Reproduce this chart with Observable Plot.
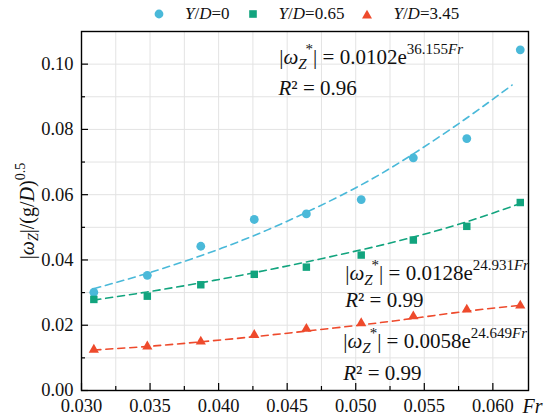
<!DOCTYPE html>
<html>
<head>
<meta charset="utf-8">
<script src="https://cdn.jsdelivr.net/npm/d3@7"></script>
<script src="https://cdn.jsdelivr.net/npm/@observablehq/plot@0.6"></script>
<style>
  html, body { margin: 0; padding: 0; background: white; }
  #wrap { position: relative; width: 550px; height: 419px; font-family: "Liberation Serif", serif; }
  #chart svg, #chart svg text, #chart svg tspan { font-family: "Liberation Serif", serif !important; }
  #legend { position: absolute; top: 0; left: 0; height: 27px; display: flex; align-items: center;
            padding-left: 154px; font-size: 17px; color: #111; z-index: 2; }
  #legend .sw { width: 10px; height: 10px; display: block; }
  #legend .lab { margin-left: 21px; margin-right: 18px; white-space: nowrap; }
</style>
</head>
<body>
<div id="wrap"><div id="legend"></div><div id="chart"></div></div>
<script>
// ---- data ----
const fr = [0.0309, 0.0348, 0.0387, 0.0426, 0.0464, 0.0504, 0.0542, 0.0581, 0.0620];
const yd0 = [0.0301, 0.0353, 0.0442, 0.0524, 0.0541, 0.0585, 0.0713, 0.0772, 0.1044];
const yd065 = [0.0279, 0.0289, 0.0324, 0.0356, 0.0378, 0.0415, 0.0461, 0.0503, 0.0576];
const yd345 = [0.0125, 0.0135, 0.0150, 0.0170, 0.0189, 0.0206, 0.0227, 0.0248, 0.0260];

// fitted (dashed) curves
const fitFr0 = [0.0309, 0.0348, 0.0387, 0.0426, 0.0464, 0.0504, 0.0542, 0.0581, 0.0614];
const fit0 = [0.0312, 0.0359, 0.0413, 0.0475, 0.0546, 0.0630, 0.0725, 0.0835, 0.0936];
const fitFr = [0.0309, 0.0348, 0.0387, 0.0426, 0.0464, 0.0504, 0.0542, 0.0581, 0.0620];
const fit065 = [0.0277, 0.0302, 0.0330, 0.0361, 0.0394, 0.0431, 0.0470, 0.0517, 0.0573];
const fit345 = [0.0124, 0.0135, 0.0149, 0.0165, 0.0182, 0.0201, 0.0221, 0.0243, 0.0261];

const seriesNames = ["Y/D=0", "Y/D=0.65", "Y/D=3.45"];
const xTicks = [0.030, 0.035, 0.040, 0.045, 0.050, 0.055, 0.060];
const xMinor = [0.0325, 0.0375, 0.0425, 0.0475, 0.0525, 0.0575];
const yTicks = [0.00, 0.02, 0.04, 0.06, 0.08, 0.10];
const yMinor = [0.01, 0.03, 0.05, 0.07, 0.09];

// annotation texts and anchor points (data coordinates)
const annText = ["|ωZ*| = 0.0102e36.155Fr", "R² = 0.96", "|ωZ*| = 0.0128e24.931Fr", "R² = 0.99", "|ωZ*| = 0.0058e24.649Fr", "R² = 0.99 "];
const annFr = [0.04442, 0.04437, 0.04923, 0.04923, 0.04909, 0.04909];
const annY = [0.1001, 0.0904, 0.0339, 0.0256, 0.0129, 0.0031];
const yLabel = "|ωZ|/(g/D)0.5";

// ---- styling ----
const colors = ["#4ab9d9", "#12a47e", "#ee4a2c"];
const W = 550, H = 419, mT = 31, mB = 29, mL = 81, mR = 22;
const innerH = H - mT - mB, innerW = W - mL - mR;
const FONT = "Liberation Serif";

const pts = (ys) => fr.map((x, i) => ({x, y: ys[i]}));
const fitPts = (xs, ys) => xs.map((x, i) => ({x, y: ys[i]}));
const ann = annText.map((t, i) => ({t, x: annFr[i], y: annY[i]}));

const plot = Plot.plot({
  width: W, height: H,
  marginTop: mT, marginBottom: mB, marginLeft: mL, marginRight: mR,
  style: {fontFamily: FONT, background: "white", overflow: "visible"},
  x: {domain: [0.030, 0.0626]},
  y: {domain: [0, 0.11]},
  marks: [
    Plot.ruleX([...xTicks, ...xMinor], {stroke: "#e3e3e3", strokeWidth: 1}),
    Plot.ruleY([...yTicks, ...yMinor], {stroke: "#e3e3e3", strokeWidth: 1}),
    Plot.line(fitPts(fitFr0, fit0), {x: "x", y: "y", stroke: colors[0], strokeWidth: 1.6, strokeDasharray: "7,5", curve: "natural"}),
    Plot.line(fitPts(fitFr, fit065), {x: "x", y: "y", stroke: colors[1], strokeWidth: 1.6, strokeDasharray: "7,5", curve: "natural"}),
    Plot.line(fitPts(fitFr, fit345), {x: "x", y: "y", stroke: colors[2], strokeWidth: 1.6, strokeDasharray: "7,5", curve: "natural"}),
    Plot.dot(pts(yd0), {x: "x", y: "y", symbol: "circle", r: 4.4, fill: colors[0]}),
    Plot.dot(pts(yd065), {x: "x", y: "y", symbol: "square", r: 4.2, fill: colors[1]}),
    Plot.dot(pts(yd345), {x: "x", y: "y", symbol: "triangle", r: 3.8, fill: colors[2]}),
    // inward ticks
    Plot.ruleX(xTicks, {insetTop: innerH - 7, stroke: "black", strokeWidth: 1.2}),
    Plot.ruleX(xMinor, {insetTop: innerH - 4, stroke: "black", strokeWidth: 1.2}),
    Plot.ruleY(yTicks, {insetRight: innerW - 7, stroke: "black", strokeWidth: 1.2}),
    Plot.ruleY(yMinor, {insetRight: innerW - 4, stroke: "black", strokeWidth: 1.2}),
    Plot.frame({stroke: "black", strokeWidth: 1.4}),
    Plot.axisX(xTicks, {tickSize: 0, tickPadding: 8, tickFormat: d3.format(".3f"), label: null, fill: "#111", fontSize: 18.5, fontFamily: FONT}),
    Plot.axisY(yTicks, {tickSize: 0, tickPadding: 8, tickFormat: d3.format(".2f"), label: null, fill: "#111", fontSize: 18.5, fontFamily: FONT}),
    Plot.text(ann, {x: "x", y: "y", text: "t", textAnchor: "start", lineAnchor: "bottom", fontSize: 21, fill: "#111", fontFamily: FONT}),
    Plot.text(["Fr"], {frameAnchor: "bottom-right", textAnchor: "start", lineAnchor: "top", dx: -6, dy: 8, fontSize: 20, fontStyle: "italic", fill: "#111", fontFamily: FONT}),
    Plot.text([yLabel], {frameAnchor: "left", rotate: -90, dx: -54, textAnchor: "middle", fontSize: 20, fill: "#111", fontFamily: FONT})
  ]
});
document.getElementById("chart").appendChild(plot);

// rich text (italic, sub/superscripts)
const omegaZ = `|<tspan font-style="italic">ω</tspan><tspan font-style="italic" font-size="15" dy="5">Z</tspan><tspan font-size="15" dy="-15" dx="-1">*</tspan><tspan dy="10">|</tspan>`;
const formula = (a, b) => `${omegaZ} = ${a}e<tspan font-size="15" dy="-10">${b}<tspan font-style="italic">Fr</tspan></tspan>`;
const rsq = (v) => `<tspan font-style="italic">R</tspan>² = ${v}`;
const rich = [formula("0.0102", "36.155"), rsq("0.96"), formula("0.0128", "24.931"), rsq("0.99"), formula("0.0058", "24.649"), rsq("0.99")];
const yRich = `|<tspan font-style="italic">ω</tspan><tspan font-style="italic" font-size="14" dy="4">Z</tspan><tspan dy="-4">|/(g/<tspan font-style="italic">D</tspan>)</tspan><tspan font-size="14" dy="-9">0.5</tspan>`;
const used = new Set();
d3.select(plot).selectAll("text").each(function() {
  const s = this.textContent;
  if (s === yLabel) { this.innerHTML = yRich; return; }
  for (let i = 0; i < annText.length; i++) {
    if (!used.has(i) && s === annText[i]) { used.add(i); this.innerHTML = rich[i]; break; }
  }
});

// legend (HTML, above the plot area)
const sw = [
  `<svg class="sw" viewBox="0 0 10 10"><circle cx="5" cy="5" r="4.4" fill="${colors[0]}"/></svg>`,
  `<svg class="sw" viewBox="0 0 10 10"><rect x="1.2" y="1.2" width="7.6" height="7.6" fill="${colors[1]}"/></svg>`,
  `<svg class="sw" viewBox="0 0 10 10"><polygon points="5,0.8 10,9.4 0,9.4" fill="${colors[2]}"/></svg>`
];
const labHtml = seriesNames.map(s => s.replace("Y", "<i>Y</i>").replace("D", "<i>D</i>"));
document.getElementById("legend").innerHTML = seriesNames.map((s, i) => `${sw[i]}<span class="lab">${labHtml[i]}</span>`).join("");
</script>
</body>
</html>
